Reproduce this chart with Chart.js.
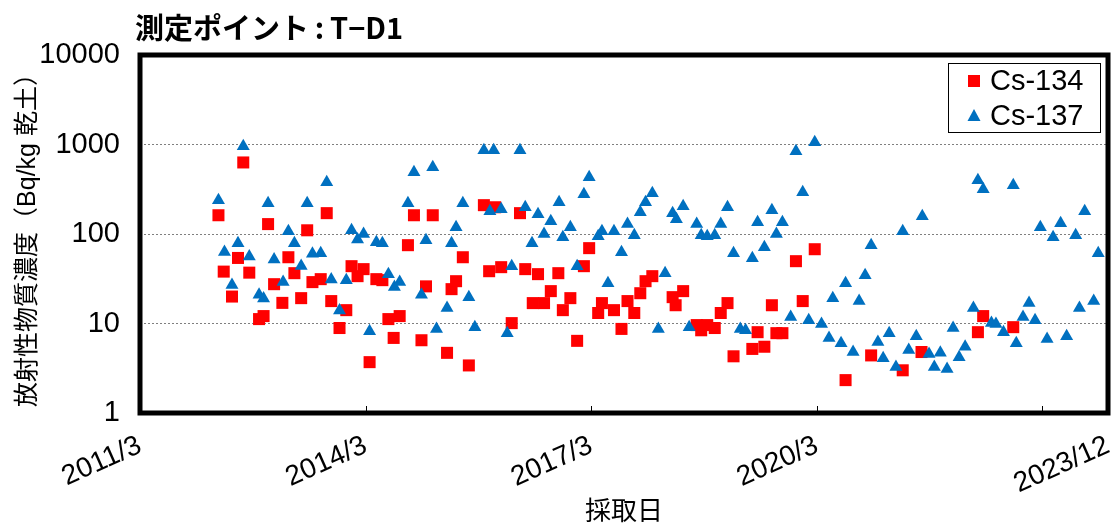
<!DOCTYPE html>
<html>
<head>
<meta charset="utf-8">
<script src="https://cdn.jsdelivr.net/npm/chart.js@4"></script>
<style>
  body { margin: 0; background: #fff; }
  #wrap { width: 1118px; height: 528px; }
</style>
</head>
<body>
<div id="wrap"><canvas id="chart" width="1118" height="528"></canvas></div>
<script>
const chartTitle = '測定ポイント\u2009:\u2009T−D1';
const yTitle = '放射性物質濃度（Bq/kg 乾土）';
const xTitle = '採取日';
const fontFamily = "'Liberation Sans', 'Noto Sans CJK JP', sans-serif";
const titleFont = "'Noto Sans CJK JP', 'Liberation Sans', sans-serif";

// x values are decimal years (2011/3 = 2011.1667)
const xMin = 2011.1667;
const xMax = 2024.04;
const xTickValues = [2011.1667, 2014.1667, 2017.1667, 2020.1667, 2023.1667, 2024.04];
const xTickLabels = ['2011/3', '2014/3', '2017/3', '2020/3', '', '2023/12'];
const yTickValues = [1, 10, 100, 1000, 10000];

const cs134Dates = [
  2012.21, 2012.28, 2012.39, 2012.47, 2012.54, 2012.62, 2012.75, 2012.81, 2012.87, 2012.95,
  2013.06, 2013.14, 2013.22, 2013.31, 2013.39, 2013.46, 2013.57, 2013.65, 2013.71, 2013.82, 2013.91, 2013.98,
  2014.06, 2014.14, 2014.22, 2014.31, 2014.39, 2014.47, 2014.54, 2014.62, 2014.73, 2014.81, 2014.91, 2014.97,
  2015.06, 2015.25, 2015.31, 2015.37, 2015.46, 2015.54, 2015.74, 2015.81, 2015.89, 2015.97,
  2016.11, 2016.22, 2016.29, 2016.39, 2016.46, 2016.54, 2016.63, 2016.73, 2016.79, 2016.89, 2016.98,
  2017.07, 2017.14, 2017.26, 2017.31, 2017.47, 2017.57, 2017.65, 2017.74, 2017.82, 2017.89, 2017.98,
  2018.25, 2018.29, 2018.39, 2018.57, 2018.63, 2018.71, 2018.81, 2018.89, 2018.98,
  2019.06, 2019.31, 2019.38, 2019.47, 2019.57, 2019.63, 2019.71, 2019.89, 2019.98,
  2020.14, 2020.55, 2020.89,
  2021.31, 2021.56,
  2022.31, 2022.38, 2022.78
];
const cs134Values = [
  162, 38, 20, 54, 630, 37, 11.2, 12.1, 129, 27.5,
  17, 55, 36.5, 19.2, 110, 29, 31.3, 171, 17.8, 8.9, 14.1, 43.7,
  33.8, 40.5, 3.7, 31.3, 30.5, 11.2, 6.9, 12.1, 75, 162, 6.5, 26,
  162, 4.7, 24.2, 29.7, 55, 3.4, 210, 38.4, 199, 42.6,
  10.1, 171, 40.5, 16.9, 35.6, 16.9, 23, 36.5, 14.1, 19.2, 6.4,
  43.7, 69.5, 13.1, 16.9, 14.1, 8.7, 17.8, 13.1, 21.8, 29.7, 33.8,
  19.7, 16, 23, 9.6, 8.4, 9.6, 8.9, 13.1, 16.9,
  4.3, 5.2, 8, 5.5, 16, 7.8, 7.8, 49.7, 17.8,
  67.6, 2.33, 4.4,
  3.0, 4.8,
  8, 12.1, 9.1
];

const cs137Dates = [
  2012.21, 2012.29, 2012.39, 2012.47, 2012.54, 2012.62, 2012.75, 2012.81, 2012.87, 2012.95,
  2013.07, 2013.14, 2013.22, 2013.31, 2013.39, 2013.46, 2013.57, 2013.65, 2013.71, 2013.82, 2013.91, 2013.98,
  2014.06, 2014.14, 2014.22, 2014.31, 2014.39, 2014.47, 2014.55, 2014.62, 2014.73, 2014.81, 2014.91, 2014.97,
  2015.06, 2015.11, 2015.25, 2015.31, 2015.37, 2015.46, 2015.54, 2015.62, 2015.74, 2015.82, 2015.87, 2015.97,
  2016.05, 2016.11, 2016.22, 2016.29, 2016.38, 2016.46, 2016.54, 2016.63, 2016.74, 2016.79, 2016.89, 2016.98,
  2017.07, 2017.14, 2017.26, 2017.31, 2017.39, 2017.47, 2017.57, 2017.65, 2017.74, 2017.82, 2017.89, 2017.98,
  2018.06, 2018.15, 2018.25, 2018.30, 2018.39, 2018.47, 2018.57, 2018.63, 2018.71, 2018.81, 2018.89, 2018.98,
  2019.06, 2019.15, 2019.22, 2019.31, 2019.38, 2019.47, 2019.57, 2019.63, 2019.71, 2019.82, 2019.89, 2019.98,
  2020.06, 2020.14, 2020.23, 2020.33, 2020.38, 2020.49, 2020.55, 2020.65, 2020.73, 2020.81, 2020.89, 2020.98,
  2021.05, 2021.13, 2021.22, 2021.31, 2021.39, 2021.49, 2021.57, 2021.66, 2021.73, 2021.81, 2021.90, 2021.98,
  2022.06, 2022.14, 2022.25, 2022.31, 2022.38, 2022.49, 2022.55, 2022.65, 2022.78, 2022.82, 2022.91, 2022.99,
  2023.07, 2023.14, 2023.23, 2023.31, 2023.41, 2023.49, 2023.61, 2023.66, 2023.73, 2023.85, 2023.91
];
const cs137Values = [
  238, 63, 27, 79, 955, 56, 21, 19, 221, 52,
  29, 107, 79, 44, 221, 60, 61, 378, 31, 14, 30.5, 110,
  87, 100, 8.2, 81, 79, 35.6, 25.5, 29, 221, 490, 21, 85,
  557, 8.7, 14.9, 79, 119, 221, 19.7, 9.1, 861, 180, 861, 189,
  7.8, 43.7, 861, 199, 79, 166, 100, 139, 226, 92, 119, 43.7,
  278, 430, 94.5, 107, 28.2, 107, 62.6, 129, 97, 175, 226, 285,
  8.7, 36.5, 171, 146, 204, 9.1, 129, 97, 94.5, 97, 129, 199,
  61, 8.7, 8.4, 53.7, 135, 71, 184, 100, 135, 11.8, 840, 293,
  10.9, 1059, 9.85, 6.9, 19.2, 6.0, 28.2, 4.8, 17.8, 34.7, 75, 6.2,
  4.1, 7.8, 3.26, 107, 5.05, 7.2, 158, 4.55, 3.26, 4.7, 3.1, 8.9,
  4.2, 5.5, 14.9, 398, 316, 10.1, 9.85, 8.0, 350, 6.0, 11.8, 16.9,
  10.9, 119, 6.7, 92, 132, 7.2, 97, 14.9, 180, 17.8, 61
];

const toPoints = (xs, ys) => xs.map((x, i) => ({ x: x, y: ys[i] }));

// frame, inward ticks, title and legend
const decorPlugin = {
  id: 'decor',
  afterDatasetsDraw(chart) {
    const ctx = chart.ctx;
    const a = chart.chartArea;
    const xs = chart.scales.x;
    ctx.save();
    // inward x ticks
    ctx.strokeStyle = '#000';
    ctx.lineWidth = 1;
    xTickValues.forEach(v => {
      if (v <= xMin || v >= xMax) return;
      const px = Math.round(xs.getPixelForValue(v)) + 0.5;
      ctx.beginPath();
      ctx.moveTo(px, a.bottom);
      ctx.lineTo(px, a.bottom - 7);
      ctx.stroke();
    });
    // frame
    ctx.lineWidth = 5;
    ctx.strokeRect(a.left, a.top, a.right - a.left, a.bottom - a.top);

    // title
    ctx.fillStyle = '#000';
    ctx.font = 'bold 29px ' + titleFont;
    ctx.textBaseline = 'middle';
    ctx.textAlign = 'left';
    ctx.fillText(chartTitle, a.left - 5, 28);

    // legend
    const bx = a.right - 160, by = a.top + 8, bw = 152, bh = 69;
    ctx.fillStyle = '#fff';
    ctx.fillRect(bx, by, bw, bh);
    ctx.lineWidth = 1;
    ctx.strokeStyle = '#000';
    ctx.strokeRect(bx + 0.5, by + 0.5, bw, bh);
    ctx.font = '29px ' + fontFamily;
    chart.data.datasets.forEach((ds, i) => {
      const cy = by + 18 + i * 35;
      const cx = bx + 26;
      ctx.fillStyle = ds.backgroundColor;
      if (ds.pointStyle === 'rect') {
        ctx.fillRect(cx - 6, cy - 6, 12, 12);
      } else {
        ctx.beginPath();
        ctx.moveTo(cx, cy - 7);
        ctx.lineTo(cx + 6.5, cy + 5);
        ctx.lineTo(cx - 6.5, cy + 5);
        ctx.closePath();
        ctx.fill();
      }
      ctx.fillStyle = '#000';
      ctx.fillText(ds.label, bx + 42, cy + 1);
    });
    ctx.restore();
  }
};

const ctx = document.getElementById('chart').getContext('2d');
new Chart(ctx, {
  type: 'scatter',
  data: {
    datasets: [
      {
        label: 'Cs-134',
        data: toPoints(cs134Dates, cs134Values),
        pointStyle: 'rect',
        pointRadius: 8.5,
        backgroundColor: '#FF0000',
        borderWidth: 0,
        order: 2
      },
      {
        label: 'Cs-137',
        data: toPoints(cs137Dates, cs137Values),
        pointStyle: 'triangle',
        pointRadius: 7.5,
        backgroundColor: '#0070C0',
        borderWidth: 0,
        order: 1
      }
    ]
  },
  options: {
    responsive: false,
    animation: false,
    layout: { padding: { top: 55, right: 10, left: 0, bottom: 0 } },
    plugins: {
      legend: { display: false },
      tooltip: { enabled: false }
    },
    scales: {
      x: {
        type: 'linear',
        min: xMin,
        max: xMax,
        afterBuildTicks: scale => { scale.ticks = xTickValues.map(v => ({ value: v })); },
        afterFit: scale => {
          scale.height = 115;
          scale.paddingLeft = 0;
          scale.paddingRight = 0;
        },
        grid: { display: false },
        border: { display: false },
        ticks: {
          autoSkip: false,
          minRotation: 24,
          maxRotation: 24,
          padding: 8,
          color: '#000',
          font: { family: fontFamily, size: 28 },
          callback: (v, i) => xTickLabels[i]
        },
        title: {
          display: true,
          text: xTitle,
          color: '#000',
          padding: 0,
          font: { family: fontFamily, size: 26 }
        }
      },
      y: {
        type: 'logarithmic',
        min: 1,
        max: 10000,
        afterBuildTicks: scale => { scale.ticks = yTickValues.map(v => ({ value: v })); },
        afterFit: scale => { scale.width = 140; },
        grid: {
          drawTicks: false,
          color: c => (c.tick && (c.tick.value === 1 || c.tick.value === 10000)) ? 'rgba(0,0,0,0)' : '#7f7f7f',
          lineWidth: 1
        },
        border: { display: false, dash: [2, 2] },
        ticks: {
          padding: 20,
          color: '#000',
          font: { family: fontFamily, size: 29 },
          callback: v => String(v)
        },
        title: {
          display: true,
          text: yTitle,
          color: '#000',
          padding: { top: 13, bottom: 0 },
          font: { family: fontFamily, size: 25 }
        }
      }
    }
  },
  plugins: [decorPlugin]
});
</script>
</body>
</html>
